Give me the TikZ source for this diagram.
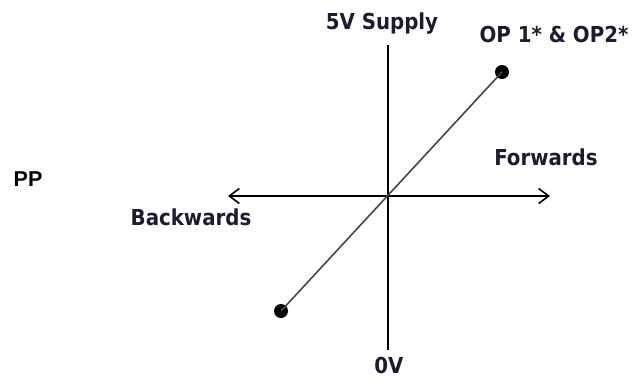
\documentclass[tikz,border=0pt]{standalone}
\usepackage{fontspec}
\setmainfont{DejaVu Sans Condensed}
\newfontfamily\ppfont{Liberation Sans}
\usetikzlibrary{arrows.meta}
\definecolor{labelink}{RGB}{28,28,48}
\definecolor{diagink}{RGB}{70,70,70}
\tikzset{
  lbl/.style={font=\bfseries\fontsize{22}{26}\selectfont, text=labelink, inner sep=0pt, anchor=base},
  axis/.style={line width=2pt, black},
  dot/.style={circle, fill=black, draw=none, minimum size=14pt, inner sep=0pt},
  diag/.style={line width=1.6pt, diagink},
  tip/.style={-{Straight Barb[length=10pt,width=15pt,line width=1.6pt]}}
}
\begin{document}
\begin{tikzpicture}[x=1pt,y=-1pt]
\useasboundingbox (0,0) rectangle (635,381);
% axes
\coordinate (top) at (388,45);
\coordinate (bottom) at (388,350);
\coordinate (left) at (228,196);
\coordinate (right) at (550,196);
\coordinate (origin) at (388,196);
\draw[axis] (top) -- (bottom);
\draw[axis, tip] (origin) -- (right);
\draw[axis, tip] (origin) -- (left);
% diagonal
\node[dot] (p1) at (281,311) {};
\node[dot] (p2) at (502,72) {};
\draw[diag] (p1.center) -- (p2.center);
% labels
\node[lbl] (supply) at (382,29) {5V Supply};
\node[lbl] (op) at (554,42) {OP 1* \& OP2*};
\node[lbl] (fwd) at (546,165) {Forwards};
\node[lbl] (bwd) at (191,225) {Backwards};
\node[lbl] (zero) at (389,373) {0V};
\node[lbl, text=black, font=\ppfont\bfseries\fontsize{21.5}{25}\selectfont] (pp) at (28,186) {PP};
\end{tikzpicture}
\end{document}
